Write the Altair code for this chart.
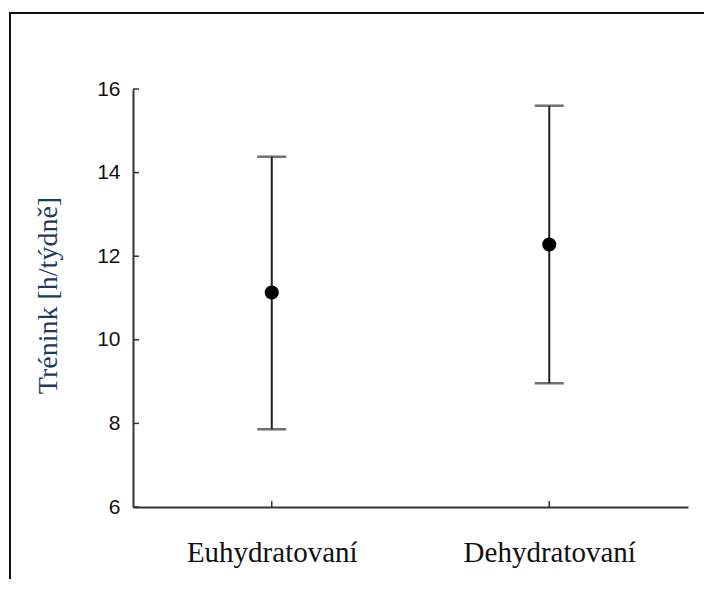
import altair as alt
import pandas as pd

groups = ["Euhydratovaní", "Dehydratovaní"]
means = [11.13, 12.28]
lower = [7.86, 8.96]
upper = [14.38, 15.60]
y_ticks = [6, 8, 10, 12, 14, 16]

df = pd.DataFrame({"group": groups, "mean": means, "lo": lower, "hi": upper})
ticks_df = pd.DataFrame({"v": y_ticks})

W, H = 555, 418
xscale = alt.Scale(type="point", padding=0.5, domain=groups)
yscale = alt.Scale(domain=[6, 16], nice=False, zero=False)

base = alt.Chart(df)

x_enc = alt.X("group:N", scale=xscale, sort=groups,
              axis=alt.Axis(title=None, labelAngle=0, ticks=False, domain=True,
                            domainColor="#333333", domainWidth=2,
                            labelFont="Liberation Serif", labelFontSize=29,
                            labelColor="#111111", labelPadding=31, labelBaseline="top"))
y_enc = alt.Y("mean:Q", scale=yscale,
              axis=alt.Axis(values=y_ticks, ticks=False, domain=True, grid=False,
                            domainColor="#333333", domainWidth=2,
                            labelFont="Liberation Sans", labelFontSize=21,
                            labelColor="#111111", labelPadding=13,
                            title="Trénink [h/týdně]", titleFont="Liberation Serif",
                            titleFontSize=28, titleFontWeight="normal",
                            titleColor="#1F3A5F", titleX=-85, titleY=206,
                            titleAngle=-90, titleBaseline="middle", titleAlign="center"))

bars = base.mark_rule(color="#222222", strokeWidth=2).encode(
    x=x_enc, y=alt.Y("lo:Q", scale=yscale), y2="hi:Q")
cap_lo = base.mark_tick(color="#333333", size=29, thickness=2.5, orient="horizontal").encode(
    x=alt.X("group:N", scale=xscale, sort=groups), y=alt.Y("lo:Q", scale=yscale))
cap_hi = base.mark_tick(color="#333333", size=29, thickness=2.5, orient="horizontal").encode(
    x=alt.X("group:N", scale=xscale, sort=groups), y=alt.Y("hi:Q", scale=yscale))
pts = base.mark_point(filled=True, color="black", size=200, opacity=1, shape="circle").encode(
    x=alt.X("group:N", scale=xscale, sort=groups), y=y_enc)

yt = alt.Chart(ticks_df).mark_rule(color="#333333", strokeWidth=1.5).encode(
    y=alt.Y("v:Q", scale=yscale), x=alt.value(0), x2=alt.value(6))
xt = base.mark_rule(color="#333333", strokeWidth=1.5).encode(
    x=alt.X("group:N", scale=xscale, sort=groups), y=alt.value(H), y2=alt.value(H - 6))

frame_left = base.mark_rule(color="#111111", strokeWidth=2).encode(
    x=alt.value(-123), y=alt.value(-76), y2=alt.value(700))
frame_top = base.mark_rule(color="#111111", strokeWidth=2).encode(
    x=alt.value(-124), x2=alt.value(800), y=alt.value(-76))

chart = alt.layer(bars, cap_lo, cap_hi, pts, yt, xt, frame_left, frame_top).properties(
    width=W, height=H,
    autosize=alt.AutoSizeParams(type="none"),
    padding={"left": 125, "top": 81, "right": 16, "bottom": 72},
    background="white",
).configure_view(stroke=None)

chart.save("out.html", embed_options={"renderer": "svg", "actions": False})
